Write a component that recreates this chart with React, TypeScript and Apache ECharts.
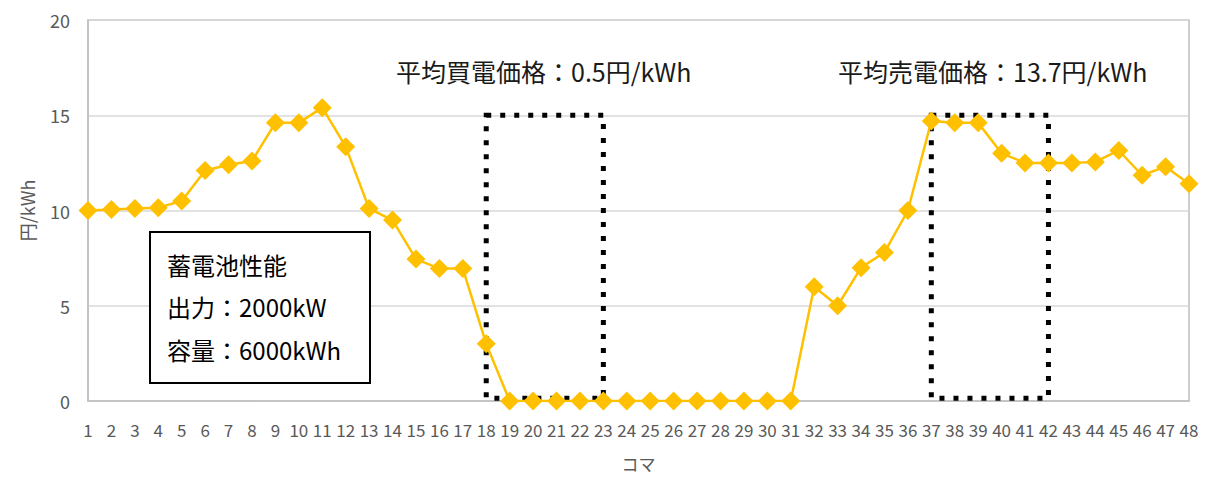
import React, { useEffect, useRef } from "react";
import * as echarts from "echarts";

const categories: string[] = Array.from({ length: 48 }, (_, i) => String(i + 1));
const prices: number[] = [
  10.0, 10.05, 10.1, 10.15, 10.5, 12.1, 12.4, 12.6, 14.6, 14.6,
  15.4, 13.35, 10.1, 9.5, 7.45, 6.95, 6.95, 3.0, 0, 0,
  0, 0, 0, 0, 0, 0, 0, 0, 0, 0,
  0, 6.0, 5.0, 7.0, 7.8, 10.0, 14.7, 14.6, 14.6, 13.0,
  12.5, 12.5, 12.5, 12.55, 13.15, 11.85, 12.3, 11.4,
];
const yTicks = { min: 0, max: 20, interval: 5 };
const buyWindow = { from: "18", to: "23", top: 15, bottom: 0.15 };
const sellWindow = { from: "37", to: "42", top: 15, bottom: 0.15 };
const buyLabel = "平均買電価格：0.5円/kWh";
const sellLabel = "平均売電価格：13.7円/kWh";
const batteryLines = ["蓄電池性能", "出力：2000kW", "容量：6000kWh"];
const yName = "円/kWh";
const xName = "コマ";

const FONT = "'Noto Sans CJK JP', 'Noto Sans', sans-serif";

export default function App() {
  const ref = useRef<HTMLDivElement>(null);
  useEffect(() => {
    document.body.style.margin = "0";
    if (!ref.current) return;
    const chart = echarts.init(ref.current, undefined, { renderer: "svg" });
    const areaStyle = {
      color: "rgba(0,0,0,0)",
      borderColor: "#000",
      borderWidth: 5,
      borderType: [5, 9],
    };
    chart.setOption({
      animation: false,
      textStyle: { fontFamily: FONT },
      grid: {
        left: 88,
        right: 16,
        top: 20,
        bottom: 76,
        outerBoundsMode: "none",
        containLabel: false,
        show: true,
        borderColor: "#bfbfbf",
        borderWidth: 1.5,
        backgroundColor: "#fff",
      },
      xAxis: {
        type: "category",
        data: categories,
        boundaryGap: false,
        name: xName,
        nameLocation: "middle",
        nameGap: 54,
        nameTextStyle: { color: "#595959", fontSize: 17, fontFamily: FONT },
        axisLine: { lineStyle: { color: "#bfbfbf", width: 1.5 } },
        axisTick: { show: false },
        axisLabel: {
          interval: 0,
          color: "#595959",
          fontSize: 17,
          margin: 28,
          fontFamily: FONT,
          verticalAlign: "middle",
        },
        splitLine: { show: false },
      },
      yAxis: {
        type: "value",
        min: yTicks.min,
        max: yTicks.max,
        interval: yTicks.interval,
        name: yName,
        nameLocation: "middle",
        nameGap: 52,
        nameRotate: 90,
        nameTextStyle: { color: "#595959", fontSize: 18, fontFamily: FONT },
        axisLine: { show: true, lineStyle: { color: "#bfbfbf", width: 1.5 } },
        axisTick: { show: false },
        axisLabel: { color: "#595959", fontSize: 18, margin: 18, fontFamily: FONT },
        splitLine: { lineStyle: { color: "#d9d9d9", width: 1.5 } },
      },
      series: [
        {
          type: "line",
          data: prices,
          symbol: "diamond",
          symbolSize: 19,
          lineStyle: { color: "#FFC000", width: 2.5 },
          itemStyle: { color: "#FFC000" },
          z: 2,
        },
        {
          type: "line",
          data: [],
          z: 5,
          markArea: {
            silent: true,
            itemStyle: areaStyle,
            data: [
              [
                { xAxis: buyWindow.from, yAxis: buyWindow.top },
                { xAxis: buyWindow.to, yAxis: buyWindow.bottom },
              ],
              [
                { xAxis: sellWindow.from, yAxis: sellWindow.top },
                { xAxis: sellWindow.to, yAxis: sellWindow.bottom },
              ],
            ],
          },
        },
      ],
      graphic: [
        {
          type: "text",
          left: 396,
          top: 58,
          style: { text: buyLabel, fill: "#1a1a1a", font: `25px ${FONT}` },
        },
        {
          type: "text",
          left: 838,
          top: 58,
          style: { text: sellLabel, fill: "#1a1a1a", font: `25px ${FONT}` },
        },
        {
          type: "rect",
          shape: { x: 150, y: 232, width: 220, height: 151 },
          style: { fill: "#fff", stroke: "#000", lineWidth: 2 },
          z: 10,
        },
        ...batteryLines.map((t, i) => ({
          type: "text",
          x: 167,
          y: [264, 306, 349][i],
          z: 11,
          style: {
            text: t,
            fill: "#000",
            font: `24px ${FONT}`,
            textVerticalAlign: "middle",
          },
        })),
      ],
    });
    return () => chart.dispose();
  }, []);
  return <div ref={ref} style={{ width: 1205, height: 477 }} />;
}
